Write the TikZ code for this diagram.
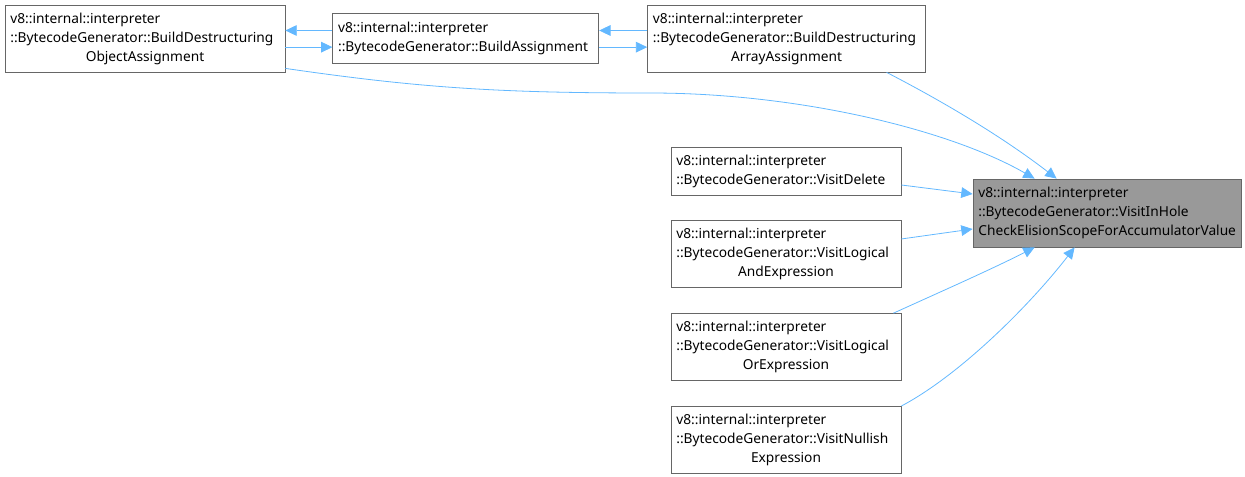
\documentclass[tikz,border=0pt]{standalone}
\usepackage{fontspec}
\setmainfont{Noto Sans}
\usepackage{tikz}
\usetikzlibrary{arrows.meta,positioning}
\definecolor{edgeblue}{HTML}{63B8FF}
\definecolor{frame}{HTML}{666666}
\definecolor{hilite}{HTML}{999999}
\newcommand{\midline}[1]{\hbox to \hsize{\hfil #1\hfil}}
\tikzset{
  fnbox/.style={rectangle, draw=frame, fill=white, line width=0.6pt, align=left,
                inner xsep=4pt, inner ysep=2pt, font=\fontsize{10.3}{14.25}\selectfont},
  hibox/.style={fnbox, fill=hilite},
  call/.style={-{Triangle[length=8.5pt,width=8pt]}, draw=edgeblue, line width=0.6pt}
}
\begin{document}
\begin{tikzpicture}[x=0.75pt, y=-0.75pt, node distance=18.75pt]
  \useasboundingbox (0,0) rectangle (1245,477);
  \node[fnbox, text width=202pt, minimum height=50.25pt] (obj) at (145,38.5)
   {v8::internal::interpreter\\::BytecodeGenerator::BuildDestructuring\\\midline{ObjectAssignment}};
  \node[fnbox, text width=191.5pt, minimum height=37.5pt, right=35.25pt of obj] (asg)
   {v8::internal::interpreter\\::BytecodeGenerator::BuildAssignment};
  \node[fnbox, text width=200.5pt, minimum height=50.25pt, right=36pt of asg] (arr)
   {v8::internal::interpreter\\::BytecodeGenerator::BuildDestructuring\\\midline{ArrayAssignment}};
  \node[hibox, text width=193pt, minimum height=51pt] (tgt) at (1107,213)
   {v8::internal::interpreter\\::BytecodeGenerator::VisitInHole\\CheckElisionScopeForAccumulatorValue};
  \node[fnbox, text width=164.5pt, minimum height=36pt] (del) at (786,171)
   {v8::internal::interpreter\\::BytecodeGenerator::VisitDelete};
  \node[fnbox, text width=164.5pt, minimum height=50.25pt, below=of del] (land)
   {v8::internal::interpreter\\::BytecodeGenerator::VisitLogical\\\midline{AndExpression}};
  \node[fnbox, text width=164.5pt, minimum height=50.25pt, below=of land] (lor)
   {v8::internal::interpreter\\::BytecodeGenerator::VisitLogical\\\midline{OrExpression}};
  \node[fnbox, text width=164.5pt, minimum height=50.25pt, below=of lor] (nul)
   {v8::internal::interpreter\\::BytecodeGenerator::VisitNullish\\\midline{Expression}};
  % calls between the builders
  \draw[call] ([yshift=6pt]asg.west) -- ([yshift=6pt]obj.east);
  \draw[call] ([yshift=-6.5pt]obj.east) -- ([yshift=-6.5pt]asg.west);
  \draw[call] ([yshift=6pt]arr.west) -- ([yshift=6pt]asg.east);
  \draw[call] ([yshift=-6.5pt]asg.east) -- ([yshift=-6.5pt]arr.west);
  % callers of the target
  \draw[call] ([yshift=3pt]obj.south east) .. controls (420,88) and (500,93) .. (650,93)
   .. controls (800,93) and (950,130) .. ([xshift=46.5pt]tgt.north west);
  \draw[call] ([xshift=75pt]arr.south) .. controls (940,100) and (1000,135) .. ([xshift=63pt]tgt.north west);
  \draw[call] ([yshift=-10.5pt]del.east) -- ([yshift=14.25pt]tgt.west);
  \draw[call] ([yshift=11.5pt]land.east) -- ([yshift=-12pt]tgt.west);
  \draw[call] ([xshift=-6pt]lor.north east) .. controls (940,292) and (990,270) .. ([xshift=46.5pt]tgt.south west);
  \draw[call] (nul.north east) .. controls (960,375) and (1030,305) .. ([xshift=76.5pt]tgt.south west);
\end{tikzpicture}
\end{document}
